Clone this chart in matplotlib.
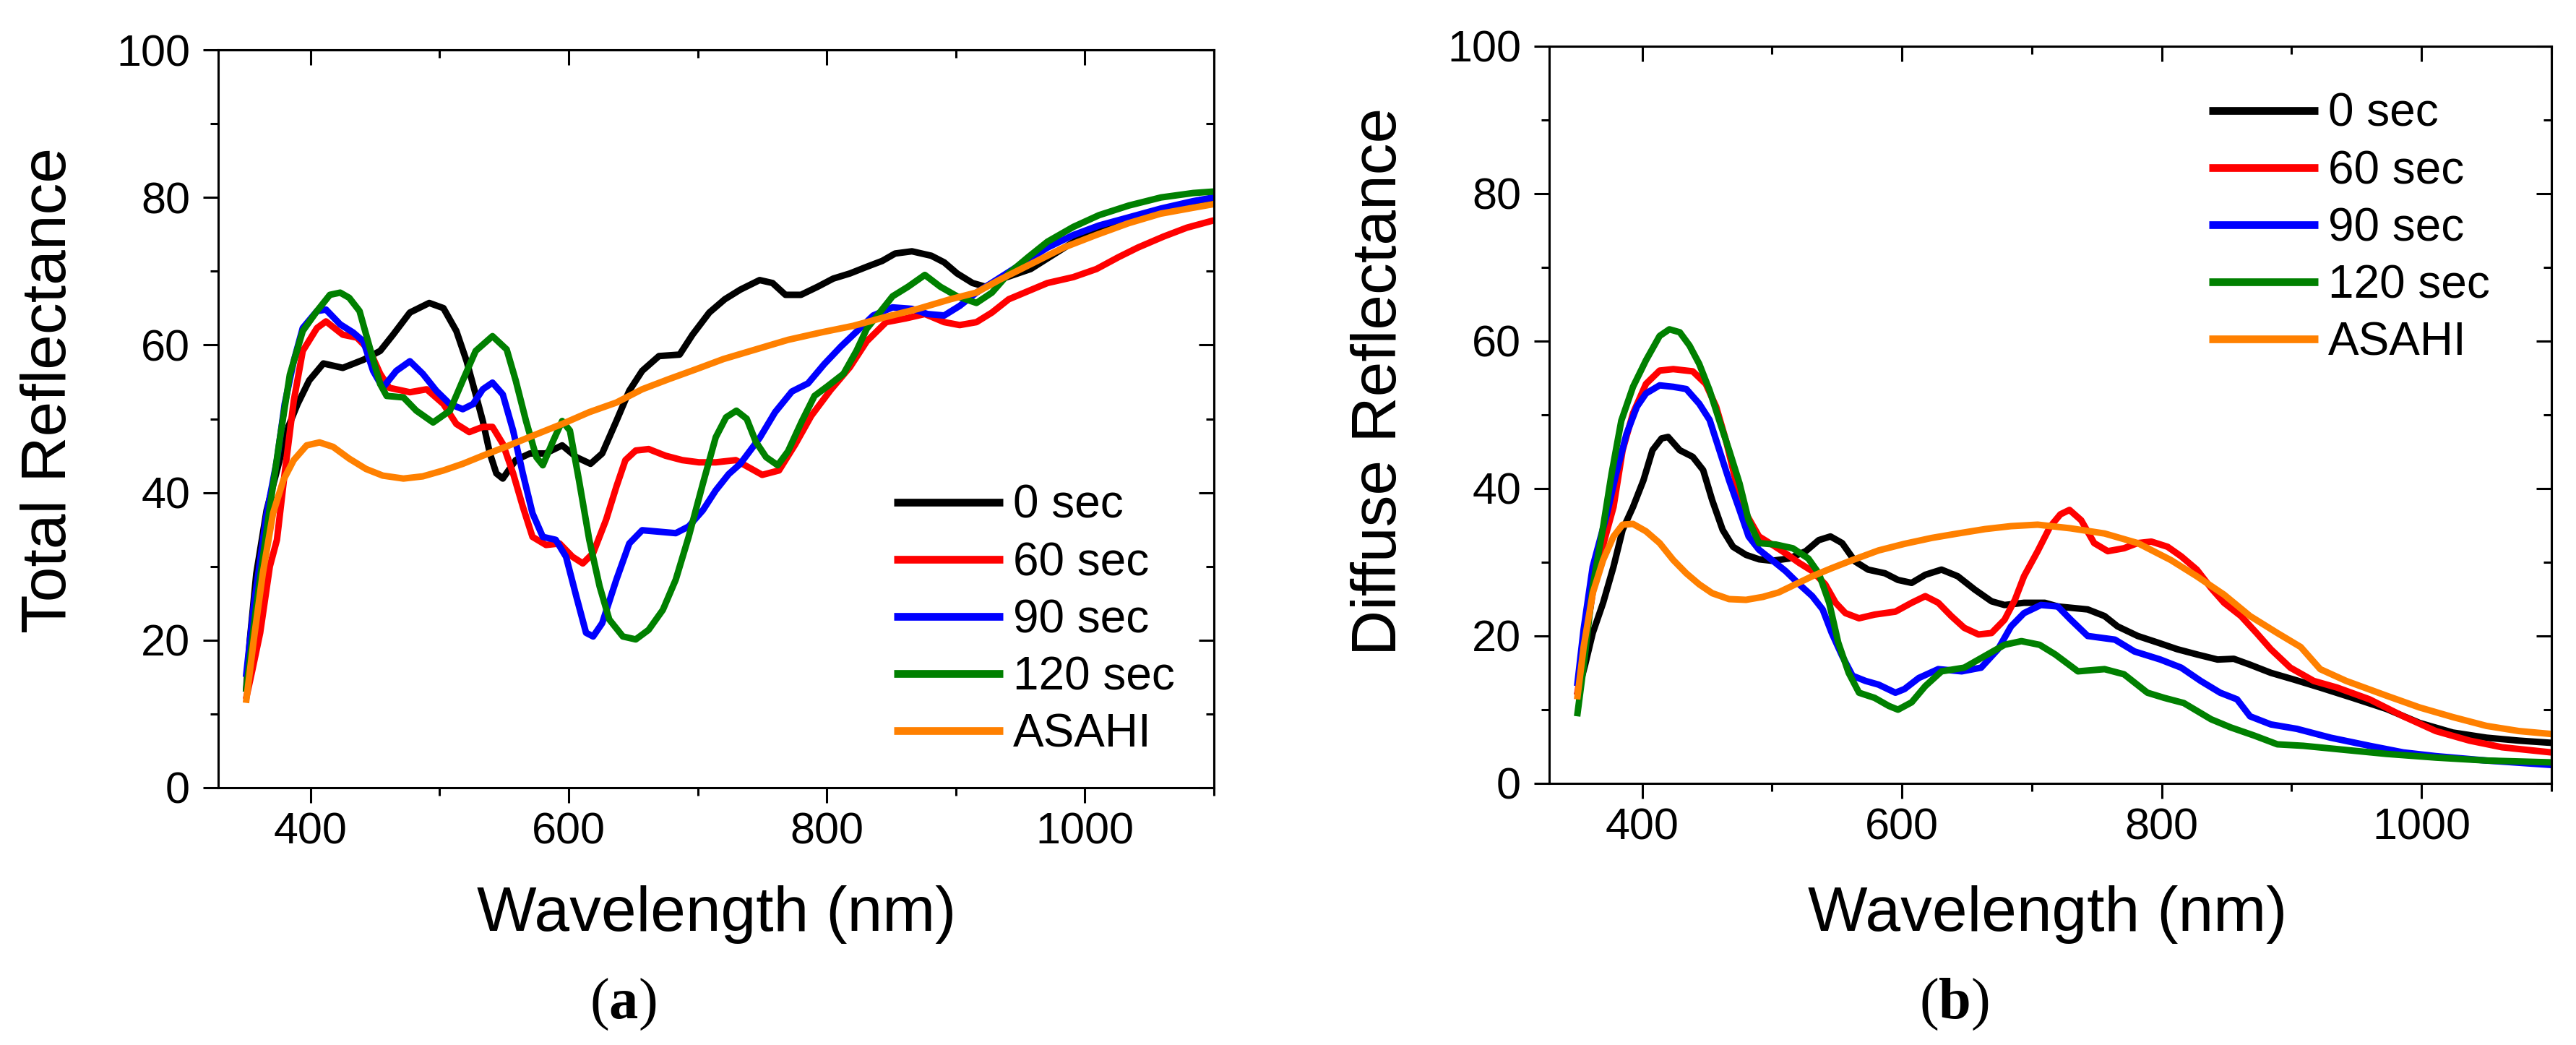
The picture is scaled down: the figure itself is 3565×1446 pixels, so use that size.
import matplotlib
matplotlib.use("Agg")
import matplotlib.pyplot as plt
from matplotlib.ticker import MultipleLocator

# ---------------------------------------------------------------------------
# Data (wavelength in nm, reflectance in %)
# ---------------------------------------------------------------------------
LABELS = ["0 sec", "60 sec", "90 sec", "120 sec", "ASAHI"]
COLORS = ["#000000", "#ff0000", "#0000ff", "#008000", "#ff8000"]

# (a) total reflectance
TOT_0_X = [350, 353, 358, 366, 374, 383, 390, 399, 410, 425, 441, 454, 464, 477, 492, 503, 513, 521, 528,
           533.5, 539, 544, 549, 559, 570, 582, 595, 606, 617, 626, 637, 647, 657, 670, 686, 696, 709, 721,
           733, 748, 758, 768, 780, 793, 805, 818, 831, 843, 853, 866, 881, 891, 901, 913, 923, 933, 958,
           996, 1046, 1100]
TOT_0_Y = [13, 20, 29, 37.6, 43, 49, 52, 55.2, 57.5, 56.9, 58, 59.2, 61.4, 64.4, 65.7, 65, 61.9, 57.8, 53.3,
           49.7, 45.3, 42.6, 41.9, 44.4, 45.3, 45.3, 46.4, 44.8, 43.9, 45.3, 49.7, 53.8, 56.5, 58.5, 58.7,
           61.4, 64.4, 66.2, 67.5, 68.8, 68.4, 66.8, 66.8, 67.9, 69, 69.7, 70.6, 71.4, 72.4, 72.7, 72.1, 71.2,
           69.7, 68.4, 67.9, 68.8, 70.3, 74.5, 77.8, 79.7]

TOT_60_X = [350, 355, 361, 368.5, 374, 380, 387, 394, 405, 412, 425, 436, 446, 454, 461, 477, 490, 503, 513,
            523, 533.5, 541, 549, 557, 564.5, 572, 582.5, 593, 603, 611, 619, 629, 637, 644, 652, 662, 675,
            688, 701, 714, 729.5, 750, 763, 775.5, 788, 803, 818, 831, 846, 861, 876, 891, 903, 916, 928,
            941, 956, 971, 991, 1009, 1026, 1041, 1061, 1079, 1100]
TOT_60_Y = [12, 16, 21, 30, 33.6, 42.6, 52.4, 59.2, 62.3, 63.2, 61.4, 61, 59.2, 56.1, 54.2, 53.6, 54, 52,
            49.3, 48.2, 48.9, 48.9, 46.6, 42.6, 38.1, 34, 32.9, 33.1, 31.3, 30.4, 31.8, 36.3, 40.8, 44.4,
            45.7, 45.9, 45, 44.4, 44.1, 44.1, 44.4, 42.4, 43, 46.5, 50.4, 53.9, 57, 60.5, 63.1, 63.6, 64.2,
            63.1, 62.7, 63.1, 64.4, 66.2, 67.3, 68.4, 69.2, 70.3, 71.9, 73.2, 74.7, 75.9, 76.9]

TOT_90_X = [350, 356, 366, 374, 380, 387, 394, 405, 412, 423, 433, 441, 448.5, 456, 466.5, 477, 487, 497.5,
            508, 518, 526, 533.5, 541, 549, 557, 564.5, 572, 580, 590, 598, 606, 613.5, 619, 626, 637, 647,
            657, 670, 683, 693, 704, 714, 724, 733, 748, 760, 773, 785.5, 798, 811, 823, 836, 851, 866, 878,
            891, 903, 916, 933, 951, 971, 991, 1011, 1034, 1059, 1084, 1100]
TOT_90_Y = [15, 24.6, 37.1, 44.4, 52, 57.8, 62.3, 64.6, 64.8, 62.8, 61.7, 60.5, 56.5, 54.2, 56.5, 57.8,
            56.1, 53.8, 52, 51.3, 52, 54, 54.9, 53.3, 48.4, 42.6, 37.2, 34, 33.6, 31.3, 25.9, 21, 20.5, 22.3,
            28.2, 33.1, 34.9, 34.7, 34.5, 35.4, 37.6, 40.3, 42.5, 43.9, 47.4, 50.9, 53.7, 54.8, 57.4, 59.8,
            61.8, 64, 65.1, 64.9, 64.2, 64, 65.3, 67.1, 69, 71, 73.2, 74.9, 76.2, 77.3, 78.5, 79.5, 80]

TOT_120_X = [350, 358, 368.5, 376, 384, 394, 405, 415, 423, 430, 438, 446, 454, 459, 472, 482, 495, 508,
             518, 528, 541, 552, 559, 567, 575, 580, 588, 595, 601, 608, 616, 624, 631.5, 642, 652, 662,
             673, 683, 693, 704, 714, 722, 730, 738, 745, 753, 762, 770, 780.5, 790.5, 800.5, 813, 823,
             831, 841, 851, 863, 876, 888, 901, 916, 928, 941, 956, 971, 991, 1011, 1034, 1059, 1084, 1100]
TOT_120_Y = [13, 24.6, 38, 47, 56, 61.9, 64.6, 66.8, 67.1, 66.4, 64.6, 59.6, 54.7, 53.1, 52.9, 51.1, 49.5,
             51.1, 55.2, 59.2, 61.2, 59.4, 55.2, 49.7, 44.8, 43.7, 47, 49.7, 48.4, 41.7, 33.6, 27.3, 22.8,
             20.5, 20.1, 21.4, 24.1, 28.2, 34, 41.2, 47.5, 50.2, 51.1, 50, 46.9, 44.8, 43.7, 45.6, 49.6,
             53.1, 54.4, 56.1, 59.2, 62.2, 64.4, 66.6, 67.9, 69.5, 67.9, 66.6, 65.7, 67.1, 69.7, 71.9, 74,
             76, 77.6, 78.9, 80, 80.6, 80.8]

TOT_AS_X = [350, 356, 363, 371, 379, 387, 397, 407, 417.5, 430, 443, 456, 472, 487, 503, 518, 533.5, 554,
            575, 595, 616, 637, 657, 678, 698.5, 720, 745, 770, 795.5, 820.6, 845.6, 870.7, 895.8, 915.8,
            933.4, 958.5, 983.5, 1008.6, 1033.7, 1058.7, 1083.8, 1100]
TOT_AS_Y = [11.5, 20, 29, 37.2, 41.7, 44.4, 46.4, 46.8, 46.2, 44.6, 43.2, 42.3, 41.9, 42.2, 43, 43.9, 45,
            46.4, 47.9, 49.3, 50.9, 52.2, 54, 55.4, 56.7, 58.1, 59.4, 60.7, 61.7, 62.6, 63.8, 64.9, 66.2,
            67.1, 68.8, 71, 73.2, 74.9, 76.5, 77.8, 78.6, 79.1]

# (b) diffuse reflectance
DIF_0_X = [350, 356, 362, 370, 378, 385, 393, 401, 408, 415, 420, 429, 439, 447, 454, 462, 470, 480, 490,
           500, 513, 526, 536, 545, 554, 564, 574, 587, 597, 607.5, 618, 630.5, 643, 656, 669, 679, 694,
           710, 720, 743, 756, 766, 781.5, 797, 812, 827, 843, 855.5, 868, 884, 901.5, 922, 947, 973,
           998.5, 1024, 1050, 1075, 1100]
DIF_0_Y = [12, 16, 20.4, 24.5, 29.4, 34.4, 37.5, 41.1, 45.2, 46.8, 47, 45.2, 44.3, 42.5, 38.4, 34.4, 32.1,
           31, 30.4, 30.2, 30.5, 31.5, 33, 33.5, 32.6, 30.1, 29, 28.5, 27.6, 27.2, 28.3, 29, 28.1, 26.3,
           24.7, 24.2, 24.5, 24.5, 24, 23.6, 22.7, 21.3, 20, 19.1, 18.2, 17.5, 16.8, 16.9, 16.1, 15, 14.1,
           13, 11.6, 10.1, 8.2, 6.9, 6.2, 5.8, 5.5]

DIF_60_X = [350, 356, 363, 371, 378, 385, 393, 403, 413.5, 424, 439, 449, 457, 464.6, 472, 480, 490, 500,
            510.5, 521, 531, 541, 549, 556.5, 567, 579, 595, 607.5, 618, 628, 638, 648, 659, 669, 679, 687,
            694, 704.5, 714, 722, 729, 738, 748, 758.5, 771, 781.5, 792, 804.5, 815, 827, 838, 848, 861,
            873, 884, 899, 917, 935, 960, 986, 1011, 1037, 1062, 1100]
DIF_60_Y = [12, 19, 27, 33, 37.5, 45.2, 50.2, 54.2, 56, 56.2, 55.9, 54.2, 51.1, 46.5, 41.1, 36.6, 33.5,
            32.4, 31.2, 29.9, 28.8, 27, 24.5, 23.1, 22.4, 22.9, 23.3, 24.5, 25.4, 24.5, 22.7, 21.1, 20.2,
            20.4, 22.2, 24.9, 28.1, 31.5, 34.8, 36.5, 37.1, 35.7, 32.6, 31.5, 31.9, 32.6, 32.8, 32.1, 30.8,
            29, 26.5, 24.5, 22.7, 20.4, 18.2, 15.7, 13.9, 13, 11.4, 9.1, 7.1, 5.8, 4.9, 4.2]

DIF_90_X = [350, 355, 362, 373, 380, 388, 396, 403, 413.5, 424, 434, 444, 452, 459.5, 467, 475, 482, 490,
            500, 510.5, 521, 531, 539, 546, 554, 562, 572, 582, 595, 602, 613, 628, 646, 661, 674, 684, 694,
            707, 720, 730, 743, 764, 779, 799, 815, 830, 845, 858, 868, 884, 904, 930, 960, 986, 1011,
            1050, 1100]
DIF_90_Y = [13.2, 20.9, 29.4, 36.6, 42, 47.4, 51.1, 52.9, 54, 53.8, 53.5, 51.5, 49.3, 45.2, 41.1, 37.1,
            33.5, 31.7, 30.3, 28.8, 27, 25.4, 23.6, 20.4, 17.3, 14.6, 13.9, 13.4, 12.3, 12.8, 14.3, 15.5,
            15.2, 15.7, 18.2, 21.3, 23.1, 24.2, 24, 22.2, 20, 19.5, 17.9, 16.8, 15.7, 13.9, 12.3, 11.4, 9.1,
            8, 7.4, 6.2, 5.1, 4.2, 3.7, 3.1, 2.5]

DIF_120_X = [350, 355, 362, 370, 376.5, 384, 393, 403, 413.5, 421, 429, 436.5, 444, 452, 459.5, 467, 475,
             482, 490, 503, 516, 528, 536, 544, 551, 559, 567, 579, 590, 597, 607.5, 618, 630.5, 648, 664,
             679, 692, 706, 718, 735.5, 756, 771, 789, 802, 817, 838, 853, 871, 889, 909, 935, 973, 1011,
             1050, 1100]
DIF_120_Y = [9.1, 15.9, 26.7, 34.8, 42, 49.2, 53.8, 57.4, 60.7, 61.6, 61.2, 59.4, 56.9, 53.3, 49.2, 45.2,
             40.7, 35.7, 32.6, 32.4, 31.9, 30.5, 28.5, 24.5, 19.1, 15, 12.3, 11.6, 10.5, 10, 11, 13.2, 15.2,
             15.7, 17.3, 18.8, 19.3, 18.8, 17.5, 15.2, 15.5, 14.8, 12.3, 11.6, 10.9, 8.7, 7.6, 6.5, 5.3,
             5.1, 4.65, 4, 3.5, 3.1, 2.85]

DIF_AS_X = [350, 355, 362, 370, 378, 385, 393, 403, 413.5, 424, 434, 444, 454, 467, 480, 493, 505, 518,
            531, 546, 562, 582, 602, 623, 643, 664, 684, 704.5, 730, 756, 781.5, 807, 827, 848, 868, 889,
            907, 922, 942, 973, 998.5, 1024, 1050, 1075, 1100]
DIF_AS_Y = [11.4, 18.5, 25.8, 30.3, 33.5, 35.1, 35.2, 34.2, 32.6, 30.3, 28.5, 27, 25.8, 25, 24.9, 25.3,
            25.9, 27, 28.1, 29.2, 30.3, 31.6, 32.5, 33.3, 33.9, 34.5, 34.9, 35.1, 34.6, 33.9, 32.6, 30.3,
            28.1, 25.6, 22.7, 20.4, 18.5, 15.5, 13.9, 11.9, 10.3, 9, 7.8, 7.1, 6.7]

TOTAL_SERIES = [(TOT_0_X, TOT_0_Y), (TOT_60_X, TOT_60_Y), (TOT_90_X, TOT_90_Y),
                (TOT_120_X, TOT_120_Y), (TOT_AS_X, TOT_AS_Y)]
DIFFUSE_SERIES = [(DIF_0_X, DIF_0_Y), (DIF_60_X, DIF_60_Y), (DIF_90_X, DIF_90_Y),
                  (DIF_120_X, DIF_120_Y), (DIF_AS_X, DIF_AS_Y)]

# ---------------------------------------------------------------------------
# Style
# ---------------------------------------------------------------------------
W, H, DPI = 3565, 1446, 200
SANS = "Liberation Sans"
SERIF = "Liberation Serif"
plt.rcParams["font.family"] = [SANS, "DejaVu Sans"]
plt.rcParams["mathtext.fontset"] = "custom"
plt.rcParams["mathtext.rm"] = SERIF
plt.rcParams["mathtext.bf"] = SERIF + ":bold"

LW = 3.25
SPINE_W = 1.1
MAJ_LEN, MIN_LEN = 7.5, 3.9


def px_box(left, top, right, bottom):
    """Axes rectangle from pixel edges of the reference."""
    return [left / W, 1 - bottom / H, (right - left) / W, (bottom - top) / H]


def style_axes(ax):
    ax.set_xlim(328.5, 1100)
    ax.set_ylim(0, 100)
    ax.xaxis.set_major_locator(MultipleLocator(200))
    ax.xaxis.set_minor_locator(MultipleLocator(100))
    ax.yaxis.set_major_locator(MultipleLocator(20))
    ax.yaxis.set_minor_locator(MultipleLocator(10))
    ax.tick_params(which="both", direction="out", width=SPINE_W, colors="black",
                   labelsize=22, top=False, right=False)
    ax.tick_params(which="major", length=MAJ_LEN)
    ax.tick_params(which="minor", length=MIN_LEN)
    ax.tick_params(axis="y", pad=6.5)
    ax.tick_params(axis="x", pad=4.5)
    for side in ax.spines:
        ax.spines[side].set_linewidth(SPINE_W)

    # mirrored ticks pointing inward on top / right
    top = ax.secondary_xaxis("top")
    top.xaxis.set_major_locator(MultipleLocator(200))
    top.xaxis.set_minor_locator(MultipleLocator(100))
    top.tick_params(which="both", direction="in", width=SPINE_W, labeltop=False)
    top.tick_params(which="major", length=MAJ_LEN)
    top.tick_params(which="minor", length=MIN_LEN)
    top.spines["top"].set_linewidth(SPINE_W)

    right = ax.secondary_yaxis("right")
    right.yaxis.set_major_locator(MultipleLocator(20))
    right.yaxis.set_minor_locator(MultipleLocator(10))
    right.tick_params(which="both", direction="in", width=SPINE_W, labelright=False)
    right.tick_params(which="major", length=MAJ_LEN)
    right.tick_params(which="minor", length=MIN_LEN)
    right.spines["right"].set_linewidth(SPINE_W)


def draw_panel(ax, series, legend_anchor):
    for (xs, ys), label, color in zip(series, LABELS, COLORS):
        ax.plot(xs, ys, color=color, linewidth=LW, label=label,
                solid_joinstyle="round", solid_capstyle="butt")
    style_axes(ax)
    leg = ax.legend(loc="upper left", bbox_to_anchor=legend_anchor, frameon=False,
                    fontsize=23, borderpad=0, borderaxespad=0, handlelength=2.36,
                    handletextpad=0.22, labelspacing=0.3)
    for line in leg.get_lines():
        line.set_linewidth(3.85)


fig = plt.figure(figsize=(W / DPI, H / DPI), dpi=DPI)
ax_a = fig.add_axes(px_box(302, 69, 1680, 1090))
ax_b = fig.add_axes(px_box(2144, 64, 3531, 1084))

draw_panel(ax_a, TOTAL_SERIES, (0.6785, 0.4114))
draw_panel(ax_b, DIFFUSE_SERIES, (0.6583, 0.9373))

# axis titles placed at their reference positions
label_kw = dict(fontsize=31.5, rotation=90, rotation_mode="anchor", ha="center", va="baseline")
fig.text(91 / W, 1 - 540 / H, "Total Reflectance", **label_kw)
fig.text(1932 / W, 1 - 528 / H, "Diffuse Reflectance", **label_kw)
fig.text(992 / W, 1 - 1288 / H, "Wavelength (nm)", fontsize=31.5, ha="center", va="baseline")
fig.text(2834 / W, 1 - 1288 / H, "Wavelength (nm)", fontsize=31.5, ha="center", va="baseline")

# panel letters
fig.text(862 / W, 1 - 1409 / H, r"($\mathbf{a}$)", fontsize=29, family=SERIF,
         ha="center", va="baseline")
fig.text(2704 / W, 1 - 1409 / H, r"($\mathbf{b}$)", fontsize=29, family=SERIF,
         ha="center", va="baseline")

fig.savefig("out.png", dpi=DPI)
